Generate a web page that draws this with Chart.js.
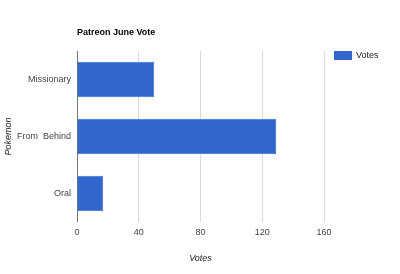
<!DOCTYPE html>
<html>
<head>
<meta charset="utf-8">
<script src="https://cdn.jsdelivr.net/npm/chart.js@4"></script>
<style>
  html, body { margin: 0; padding: 0; background: #fff; }
  #wrap { width: 400px; height: 274px; }
</style>
</head>
<body>
<div id="wrap"><canvas id="voteChart" width="400" height="274"></canvas></div>
<script>
// Chart data
var categories = ['Missionary', 'From  Behind', 'Oral'];
var votes = [50, 129, 17];
var xTicks = [0, 40, 80, 120, 160];
var seriesName = 'Votes';
var chartTitle = 'Patreon June Vote';

var FONT = 'Arial, "Liberation Sans", sans-serif';
var BAR_COLOR = '#3366cc';

// title and legend drawn the google-charts way (left aligned title, legend at top right)
var headerPlugin = {
  id: 'header',
  afterDraw: function (chart) {
    var ctx = chart.ctx;
    var area = chart.chartArea;
    ctx.save();
    ctx.fillStyle = '#000';
    ctx.font = 'bold 9px ' + FONT;
    ctx.textAlign = 'left';
    ctx.textBaseline = 'middle';
    ctx.fillText(chartTitle, area.left, 33);

    var lx = area.right + 10;
    ctx.fillStyle = BAR_COLOR;
    ctx.fillRect(lx, 51, 18, 9);
    ctx.fillStyle = '#222';
    ctx.font = '9px ' + FONT;
    ctx.fillText(seriesName, lx + 22, 56);
    ctx.restore();
  }
};

var chartConfig = {
  type: 'bar',
  data: {
    labels: categories,
    datasets: [{
      label: seriesName,
      data: votes,
      backgroundColor: BAR_COLOR,
      borderColor: '#3a70d6',
      borderWidth: 1,
      categoryPercentage: 0.62,
      barPercentage: 1
    }]
  },
  options: {
    indexAxis: 'y',
    responsive: false,
    animation: false,
    layout: { padding: { top: 51, right: 76, left: 0, bottom: 0 } },
    plugins: {
      legend: { display: false },
      title: { display: false },
      tooltip: { enabled: false }
    },
    scales: {
      x: {
        min: 0,
        max: 160,
        afterBuildTicks: function (scale) {
          scale.ticks = xTicks.map(function (v) { return { value: v }; });
        },
        afterFit: function (scale) { scale.height = 52; },
        grid: {
          color: function (c) { return c.tick && c.tick.value === 0 ? '#777' : '#dadada'; },
          lineWidth: 1,
          drawTicks: false
        },
        border: { display: false },
        ticks: {
          padding: 5,
          color: '#444',
          font: { family: FONT, size: 9 }
        },
        title: {
          display: true,
          text: 'Votes',
          color: '#222',
          padding: { top: 0, bottom: 10 },
          font: { family: FONT, size: 9, style: 'italic' }
        }
      },
      y: {
        afterFit: function (scale) { scale.width = 77; },
        grid: { display: false, drawTicks: false },
        border: { display: false },
        ticks: {
          padding: 6,
          color: '#444',
          font: { family: FONT, size: 9 }
        },
        title: {
          display: true,
          text: 'Pokemon',
          color: '#222',
          padding: { top: 3, bottom: 0 },
          font: { family: FONT, size: 9, style: 'italic' }
        }
      }
    }
  },
  plugins: [headerPlugin]
};

var ctx = document.getElementById('voteChart').getContext('2d');
var barChart = new Chart(ctx, chartConfig);
</script>
</body>
</html>
